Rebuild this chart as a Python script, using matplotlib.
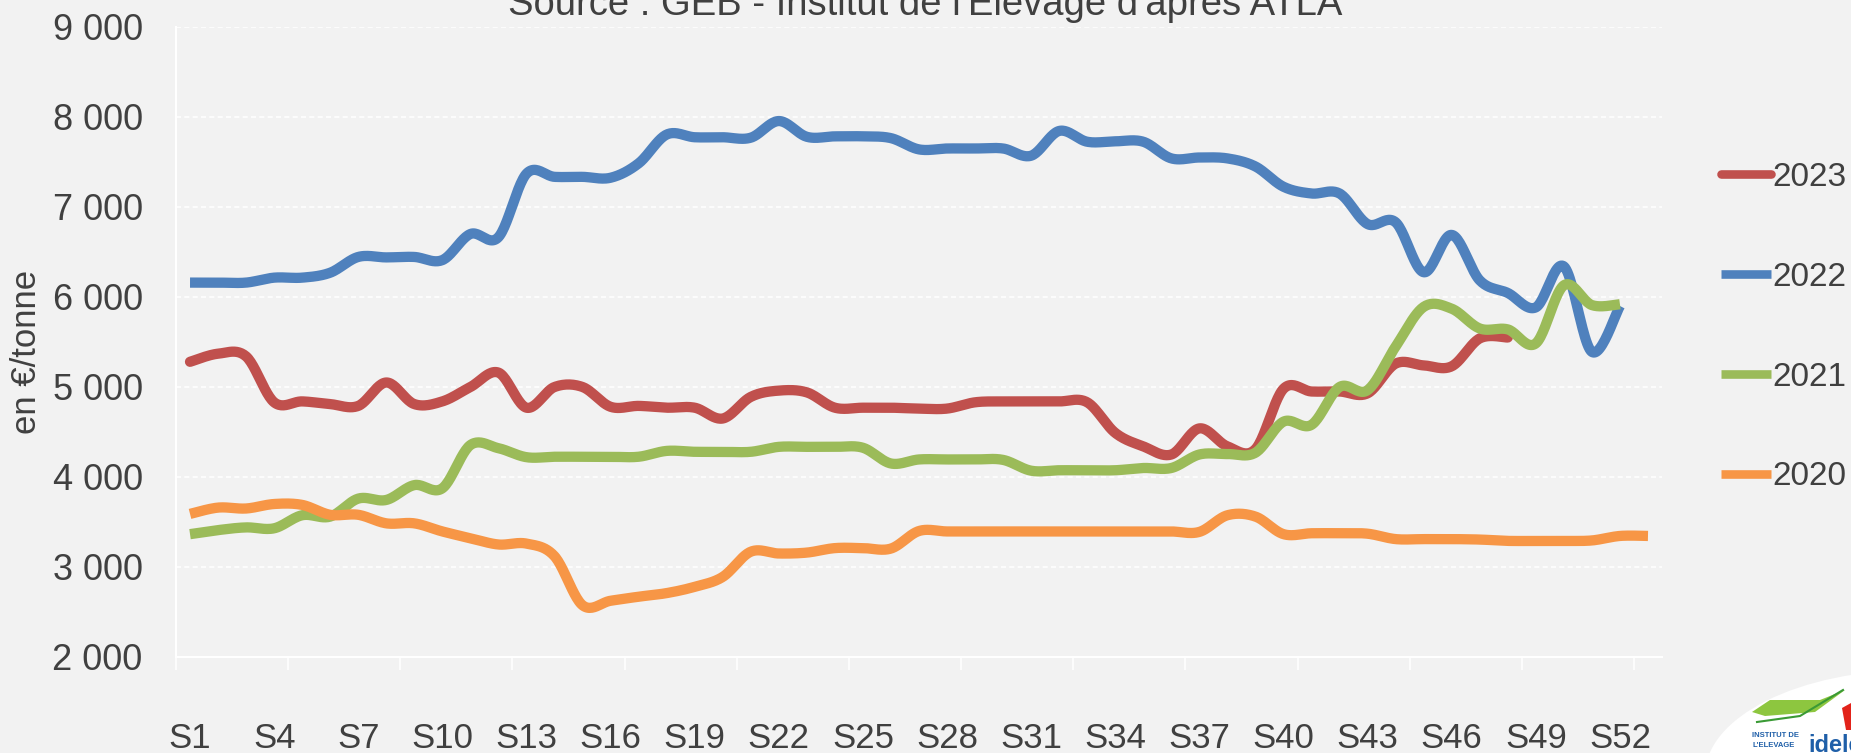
import numpy as np
import matplotlib
matplotlib.use("Agg")
import matplotlib.pyplot as plt
from matplotlib.patches import Ellipse, Polygon
from matplotlib.lines import Line2D
from matplotlib.ticker import FixedLocator, FuncFormatter

# ---------------- data ----------------
weeks = [f"S{i}" for i in range(1, 54)]
label_weeks = list(range(1, 53, 3))          # S1, S4, ... S52

y2023 = [5280, 5370, 5340, 4830, 4840, 4810, 4790, 5050, 4810, 4840,
         5000, 5160, 4770, 5000, 5000, 4780, 4790, 4770, 4770, 4650,
         4890, 4960, 4940, 4770, 4770, 4770, 4760, 4760, 4830, 4840,
         4840, 4840, 4830, 4490, 4340, 4250, 4540, 4340, 4310, 4980,
         4950, 4950, 4930, 5260, 5240, 5230, 5540, 5550]
y2022 = [6160, 6160, 6160, 6215, 6215, 6270, 6445, 6440, 6445, 6410,
         6700, 6665, 7370, 7335, 7335, 7325, 7485, 7805, 7775, 7775,
         7770, 7955, 7780, 7785, 7785, 7765, 7640, 7650, 7650, 7650,
         7570, 7845, 7725, 7730, 7725, 7540, 7550, 7540, 7450, 7225,
         7150, 7150, 6810, 6830, 6275, 6690, 6185, 6045, 5885, 6340,
         5390, 5900]
y2021 = [3365, 3410, 3440, 3430, 3575, 3560, 3760, 3745, 3910, 3875,
         4355, 4320, 4220, 4225, 4225, 4225, 4225, 4290, 4280, 4280,
         4280, 4335, 4335, 4335, 4325, 4150, 4195, 4195, 4195, 4190,
         4070, 4075, 4075, 4075, 4100, 4100, 4250, 4255, 4270, 4615,
         4580, 5000, 4965, 5450, 5890, 5870, 5650, 5640, 5485, 6130,
         5910, 5920]
y2020 = [3590, 3660, 3650, 3700, 3690, 3580, 3580, 3485, 3485, 3395,
         3320, 3250, 3260, 3120, 2575, 2625, 2670, 2710, 2780, 2890,
         3170, 3150, 3160, 3210, 3210, 3205, 3400, 3395, 3395, 3395,
         3395, 3395, 3395, 3395, 3395, 3395, 3390, 3575, 3560, 3365,
         3375, 3375, 3370, 3310, 3310, 3310, 3305, 3290, 3290, 3290,
         3295, 3345, 3345]

series_labels = ["2023", "2022", "2021", "2020"]
series_values = [y2023, y2022, y2021, y2020]
series_colors = ["#C0504D", "#4F81BD", "#9BBB59", "#F79646"]

title = "Source : GEB - Institut de l'Elevage d'après ATLA"
ylabel = "en €/tonne"

# ---------------- helpers ----------------
W, H = 1851, 753
BG = "#F2F2F2"
TXT = "#404040"
FONT = ["Liberation Sans", "DejaVu Sans"]
plt.rcParams["font.family"] = FONT


def fx(x):
    return x / W


def fy(y):
    return 1 - y / H


def smooth(vals, n=24):
    """Excel-like smoothed line (Bezier through the data points)."""
    x = np.arange(1, len(vals) + 1, dtype=float)
    P = np.column_stack([x, np.asarray(vals, float)])
    Pe = np.vstack([P[0], P, P[-1]])
    t = np.linspace(0, 1, n, endpoint=False)[:, None]
    out = []
    for i in range(len(P) - 1):
        p0, p1, p2, p3 = Pe[i], Pe[i + 1], Pe[i + 2], Pe[i + 3]
        c1 = p1 + (p2 - p0) / 6.0
        c2 = p2 - (p3 - p1) / 6.0
        seg = ((1 - t) ** 3) * p1 + 3 * ((1 - t) ** 2) * t * c1 \
            + 3 * (1 - t) * t ** 2 * c2 + t ** 3 * p2
        out.append(seg)
    out.append(P[-1][None, :])
    return np.vstack(out)


# ---------------- figure ----------------
fig = plt.figure(figsize=(W / 100, H / 100), dpi=100, facecolor=BG)
ax = fig.add_axes([fx(176), 1 - 657 / H, (1662 - 176) / W, (657 - 27) / H])
ax.set_facecolor(BG)
ax.set_xlim(0.5, len(weeks) + 0.5)
ax.set_ylim(2000, 9000)

lw = 7.4
handles = []
for z, (lab, vals, col) in enumerate(zip(series_labels, series_values, series_colors)):
    pts = smooth(vals)
    cap = "round" if lab == "2023" else "butt"
    ax.plot(pts[:, 0], pts[:, 1], color=col, lw=lw, solid_capstyle=cap,
            solid_joinstyle="round", zorder=3 + z)
    handles.append(Line2D([0], [0], color=col, lw=6.2, solid_capstyle=cap))

# grid / spines
ax.set_yticks(range(2000, 9001, 1000))
ax.yaxis.set_major_formatter(FuncFormatter(lambda v, p: f"{v:,.0f}".replace(",", " ")))
ax.yaxis.grid(True, color="white", linestyle=(0, (3, 2)), linewidth=1.2, zorder=1)
ax.set_axisbelow(True)
for s in ["top", "right"]:
    ax.spines[s].set_visible(False)
for s in ["left", "bottom"]:
    ax.spines[s].set_color("white")
    ax.spines[s].set_linewidth(1.5)

ax.tick_params(axis="y", length=0, pad=24, labelsize=26, labelcolor=TXT)
ax.xaxis.set_major_locator(FixedLocator(label_weeks))
ax.set_xticklabels([weeks[i - 1] for i in label_weeks])
ax.xaxis.set_minor_locator(FixedLocator(np.arange(0.5, len(weeks), 4)))
ax.tick_params(axis="x", which="major", length=0, pad=47, labelsize=25, labelcolor=TXT)
ax.tick_params(axis="x", which="minor", length=9.5, width=1.2, color="white")

fig.text(fx(27), fy(352), ylabel, rotation=90, ha="center", va="center",
         fontsize=25, color=TXT)
fig.text(fx(925), fy(15), title, ha="center", va="baseline", fontsize=27.5, color=TXT)

leg = fig.legend(handles, series_labels, loc="center left",
                 bbox_to_anchor=(fx(1721), fy(327)), frameon=False,
                 fontsize=24, handlelength=1.5, handletextpad=0.05,
                 labelspacing=2.07, borderpad=0, borderaxespad=0)
for t in leg.get_texts():
    t.set_color(TXT)

# ---------------- logo (bottom right) ----------------
ell = Ellipse((fx(1915), fy(775)), width=420 / W, height=210 / H, angle=0,
              transform=fig.transFigure, facecolor="white", edgecolor="none", zorder=10)
fig.patches.append(ell)
sw = Polygon([(fx(1752), fy(712)), (fx(1770), fy(700)), (fx(1820), fy(700)),
              (fx(1845), fy(690)), (fx(1815), fy(712)), (fx(1765), fy(716))],
             closed=True, transform=fig.transFigure, facecolor="#8DC63F",
             edgecolor="none", zorder=11)
fig.patches.append(sw)
fig.lines.append(Line2D([fx(1757), fx(1800), fx(1843)], [fy(722), fy(716), fy(690)],
                        transform=fig.transFigure, color="#3A9A35", lw=1.5, zorder=12))
fig.patches.append(Polygon([(fx(1842), fy(708)), (fx(1851), fy(703)), (fx(1851), fy(730)),
                            (fx(1846), fy(730))], closed=True, transform=fig.transFigure,
                           facecolor="#E2231A", edgecolor="none", zorder=11))
fig.text(fx(1752), fy(737), "INSTITUT DE", fontsize=5.5, fontweight="bold",
         color="#1F5FA8", va="baseline", zorder=12)
fig.text(fx(1752), fy(747), "L'ELEVAGE", fontsize=5.5, fontweight="bold",
         color="#1F5FA8", va="baseline", zorder=12)
fig.text(fx(1808), fy(752), "idele", fontsize=17, fontweight="bold",
         color="#1F5FA8", va="baseline", zorder=12)

fig.savefig("out.png", dpi=100, facecolor=BG)
